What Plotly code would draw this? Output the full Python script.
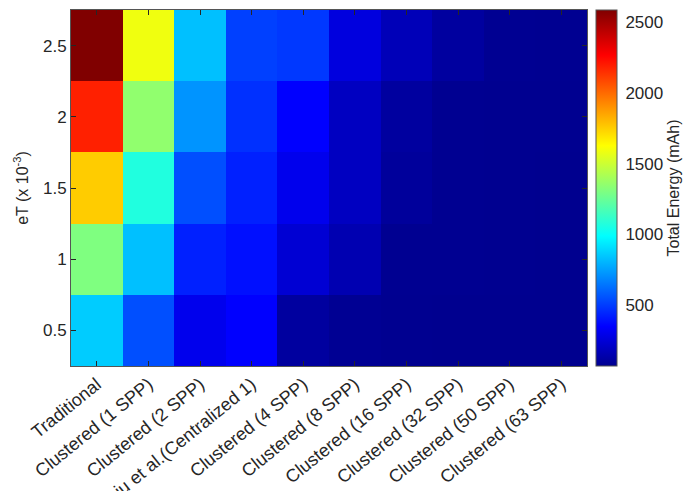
import plotly.graph_objects as go

categories = ["Traditional", "Clustered (1 SPP)", "Clustered (2 SPP)",
              "Liu et al.(Centralized 1)", "Clustered (4 SPP)",
              "Clustered (8 SPP)", "Clustered (16 SPP)", "Clustered (32 SPP)",
              "Clustered (50 SPP)", "Clustered (63 SPP)"]
eT = [0.5, 1.0, 1.5, 2.0, 2.5]

row_05 = [860, 548, 305, 349, 110, 80, 72, 71, 70, 70]
row_10 = [1307, 829, 430, 387, 240, 155, 76, 74, 72, 71]
row_15 = [1755, 1068, 548, 430, 305, 195, 100, 74, 72, 71]
row_20 = [2185, 1350, 720, 470, 349, 195, 111, 75, 73, 72]
row_25 = [2585, 1589, 829, 510, 490, 266, 171, 111, 78, 76]
z = [row_05, row_10, row_15, row_20, row_25]

cb_ticks = [500, 1000, 1500, 2000, 2500]
y_ticks = [0.5, 1, 1.5, 2, 2.5]

jet = [[0.0, "rgb(0,0,143)"], [0.111, "rgb(0,0,255)"], [0.365, "rgb(0,255,255)"],
       [0.619, "rgb(255,255,0)"], [0.873, "rgb(255,0,0)"], [1.0, "rgb(128,0,0)"]]

txt = "#262626"
fig = go.Figure(go.Heatmap(
    x=list(range(len(categories))), y=eT, z=z, colorscale=jet,
    colorbar=dict(
        title=dict(text="Total Energy (mAh)", side="right",
                   font=dict(size=16, color=txt)),
        tickvals=cb_ticks, ticks="outside", ticklen=5, tickcolor="rgba(0,0,0,0)",
        tickfont=dict(size=17, color=txt),
        thickness=21, len=1.0, lenmode="fraction", y=0.5, yanchor="middle",
        x=1.017, xanchor="left", outlinewidth=1, outlinecolor="#555",
        xpad=0, ypad=0,
    ),
))

fig.update_layout(
    width=691, height=483,
    margin=dict(l=63, r=112, t=2, b=125, autoexpand=False),
    paper_bgcolor="white", plot_bgcolor="white",
    font=dict(family="Liberation Sans, Arial, sans-serif", size=16, color=txt),
)
fig.update_xaxes(
    tickvals=list(range(len(categories))), ticktext=categories, tickangle=-39,
    ticks="inside", ticklen=5, tickcolor=txt, showline=True, linecolor="#555",
    linewidth=1, mirror="ticks", range=[-0.5, len(categories) - 0.5],
    tickfont=dict(size=18, color=txt), showgrid=False, zeroline=False,
    automargin=False,
)
fig.update_yaxes(
    tickvals=y_ticks, ticktext=["0.5", "1", "1.5", "2", "2.5"],
    ticks="inside", ticklen=5, tickcolor=txt, showline=True, linecolor="#555",
    linewidth=1, mirror="ticks", range=[0.25, 2.75],
    tickfont=dict(size=17, color=txt), showgrid=False, zeroline=False,
    automargin=False,
    title=dict(text="eT (x 10<sup>-3</sup>)", font=dict(size=16, color=txt), standoff=10),
)
fig.write_html("out.html")
